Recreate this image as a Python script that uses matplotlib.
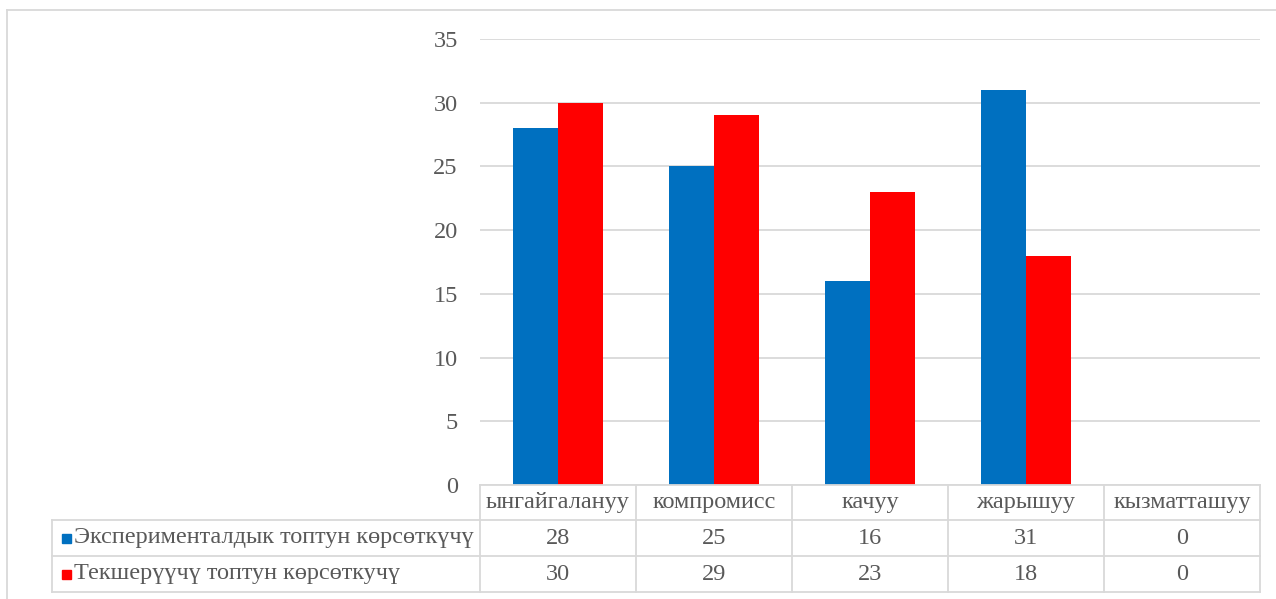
import matplotlib.pyplot as plt
from matplotlib.lines import Line2D
from matplotlib.patches import Rectangle

categories = ['ынгайгалануу', 'компромисс', 'качуу', 'жарышуу', 'кызматташуу']
series_names = ['Эксперименталдык топтун көрсөткүчү', 'Текшерүүчү топтун көрсөткучү']
exp_values = [28, 25, 16, 31, 0]
ctrl_values = [30, 29, 23, 18, 0]
colors = ['#0070C0', '#FF0000']

plt.rcParams['font.family'] = ['Liberation Serif', 'DejaVu Serif']
W, H = 1276, 599
fig = plt.figure(figsize=(W / 100, H / 100), dpi=100)

def fx(px):
    return px / W

def fy(py):
    return 1 - py / H

ax_left, ax_right, ax_top, ax_bottom = 480, 1260, 39, 485
ax = fig.add_axes([fx(ax_left), fy(ax_bottom), fx(ax_right - ax_left), (ax_bottom - ax_top) / H])

n = len(categories)
x = list(range(n))
bw = 1 / 3.5
ax.bar([i - bw / 2 for i in x], exp_values, bw, color=colors[0], zorder=3)
ax.bar([i + bw / 2 for i in x], ctrl_values, bw, color=colors[1], zorder=3)
ax.set_xlim(-0.5, n - 0.5)
ax.set_ylim(0, 35)
ax.set_yticks(range(0, 36, 5))
ax.set_xticks([])
ax.yaxis.grid(True, color='#d9d9d9', linewidth=1.3)
ax.set_axisbelow(True)
for s in ax.spines.values():
    s.set_visible(False)
ax.tick_params(axis='y', length=0, pad=16, labelsize=17.5, labelcolor='#595959')

# data table below the axis
grid_c = '#d9d9d9'
tab_left = 52
rows_y = [485, 520, 556, 592]
col_x = [ax_left + (ax_right - ax_left) * i / n for i in range(n + 1)]

def hline(x0, x1, y):
    fig.add_artist(Line2D([fx(x0), fx(x1)], [fy(y), fy(y)], color=grid_c, lw=1.3))

def vline(x0, y0, y1):
    fig.add_artist(Line2D([fx(x0), fx(x0)], [fy(y0), fy(y1)], color=grid_c, lw=1.3))

hline(ax_left, ax_right, rows_y[0])
for y in rows_y[1:]:
    hline(tab_left, ax_right, y)
vline(tab_left, rows_y[1], rows_y[3])
for xc in col_x:
    vline(xc, rows_y[0], rows_y[3])

txt = dict(fontsize=17.5, color='#595959', va='center')
for i, cat in enumerate(categories):
    cx = (col_x[i] + col_x[i + 1]) / 2
    fig.text(fx(cx), fy((rows_y[0] + rows_y[1]) / 2), cat, ha='center', **txt)
    fig.text(fx(cx), fy((rows_y[1] + rows_y[2]) / 2), str(exp_values[i]), ha='center', **txt)
    fig.text(fx(cx), fy((rows_y[2] + rows_y[3]) / 2), str(ctrl_values[i]), ha='center', **txt)

for r, (name, c) in enumerate(zip(series_names, colors)):
    yc = (rows_y[r + 1] + rows_y[r + 2]) / 2
    fig.add_artist(Rectangle((fx(62), fy(yc + 5)), fx(9), 9 / H, color=c))
    fig.text(fx(74), fy(yc), name, ha='left', **txt)

# chart area frame (top and left visible)
hline(7, W, 10)
vline(7, 10, H)

fig.savefig('out.png', dpi=100)
